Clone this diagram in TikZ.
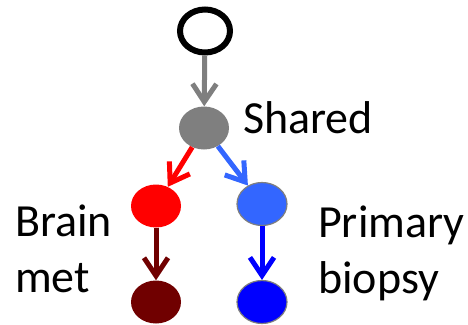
\documentclass[tikz,border=0pt]{standalone}
\usepackage{fontspec}
\setmainfont{Carlito}
\usetikzlibrary{arrows.meta, shapes.geometric, positioning}

\definecolor{cGray}{HTML}{7F7F7F}
\definecolor{cLightBlue}{HTML}{3366FF}
\definecolor{cDarkRed}{HTML}{700000}

\tikzset{
  clone/.style={ellipse, minimum width=50pt, minimum height=43pt, inner sep=0pt},
  rimmed/.style={draw=cGray, line width=1.2pt},
  edge/.style={line width=5pt, -{Straight Barb[length=18pt,width=24pt,line width=5pt]}},
  lbl/.style={anchor=base west, align=left, inner sep=0pt,
    font=\fontsize{46}{56}\selectfont}
}

\begin{document}
\begin{tikzpicture}[x=1pt,y=-1pt]

\useasboundingbox (0,0) rectangle (468,324);

\node[clone, draw=black, line width=6pt, minimum width=50pt, minimum height=43pt] (nRoot) at (205,31) {};
\node[clone, fill=cGray] (nShared) at (204,128) {};
\node[clone, fill=red] (nBrain) at (156,206) {};
\node[clone, rimmed, fill=cLightBlue] (nPrimary) at (262,204) {};
\node[clone, fill=cDarkRed] (nBrainLeaf) at (156,302) {};
\node[clone, rimmed, fill=blue] (nPrimaryLeaf) at (262,302) {};

\foreach \s/\t/\c in
{nRoot/nShared/cGray,
    nShared/nBrain/red,
    nShared/nPrimary/cLightBlue,
    nBrain/nBrainLeaf/cDarkRed,
    nPrimary/nPrimaryLeaf/blue}
{
    \draw[edge, draw=\c] (\s) -- (\t);
};

\node[lbl] (tShared) at (243,133) {Shared};
\node[lbl] (tBrain) at (15,292) {Brain\\met};
\node[lbl] (tPrimary) at (318,293) {Primary\\biopsy};

\end{tikzpicture}
\end{document}
